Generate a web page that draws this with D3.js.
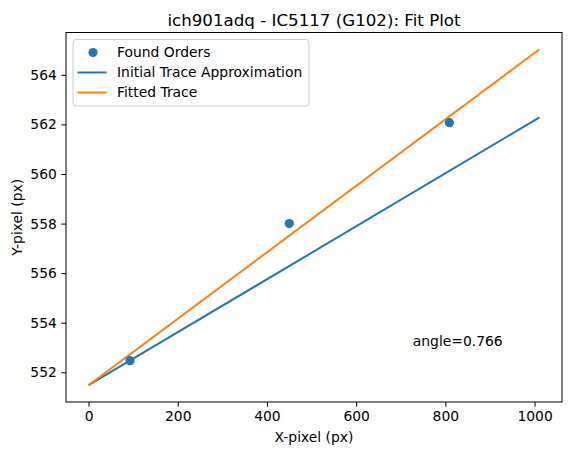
<!DOCTYPE html>
<html>
<head>
<meta charset="utf-8">
<script src="https://cdn.jsdelivr.net/npm/d3@7"></script>
<style>
  body { margin: 0; background: #fff; }
  svg { font-family: "DejaVu Sans", sans-serif; }
</style>
</head>
<body>
<svg id="drawing_region"></svg>
<script>
// data
const found_x = [93, 450, 809]
const found_y = [552.47, 558.0, 562.07]
const trace_x = [0, 1011]
const initial_y = [551.48, 562.28]
const fitted_y = [551.48, 565.03]
const x_ticks = [0, 200, 400, 600, 800, 1000]
const y_ticks = [552, 554, 556, 558, 560, 562, 564]
const angle_label = 'angle=0.766'

const config = {
    width: 571,
    height: 455,
    margin: {top: 32.5, right: 9, bottom: 53, left: 66}
}
const fs = 13.89

const svg = d3.select('#drawing_region')
    .attr('width', config.width)
    .attr('height', config.height)

const inner_width = config.width - config.margin.left - config.margin.right
const inner_height = config.height - config.margin.top - config.margin.bottom

const chart = svg.append('g')
    .attr('transform', `translate(${config.margin.left},${config.margin.top})`)

// matplotlib style 5% margins
const xlo = d3.min(trace_x), xhi = d3.max(trace_x)
const xpad = (xhi - xlo) * 0.05
const xscale = d3.scaleLinear().domain([xlo - xpad, xhi + xpad]).range([0, inner_width])

const all_y = initial_y.concat(fitted_y, found_y)
const ylo = d3.min(all_y), yhi = d3.max(all_y)
const ypad = (yhi - ylo) * 0.05
const yscale = d3.scaleLinear().domain([ylo - ypad, yhi + ypad]).range([inner_height, 0])

const xaxis = d3.axisBottom(xscale).tickValues(x_ticks).tickFormat(d3.format('d'))
    .tickSize(4.7).tickPadding(4.5).tickSizeOuter(0)
const yaxis = d3.axisLeft(yscale).tickValues(y_ticks).tickFormat(d3.format('d'))
    .tickSize(4.7).tickPadding(4.5).tickSizeOuter(0)

const xg = chart.append('g').attr('transform', `translate(0,${inner_height})`).call(xaxis)
const yg = chart.append('g').call(yaxis)
xg.select('.domain').remove()
yg.select('.domain').remove()
chart.selectAll('.tick text').attr('font-size', fs).attr('fill', '#000')
    .attr('font-family', '"DejaVu Sans", sans-serif')
chart.selectAll('.tick line').attr('stroke', '#000').attr('stroke-width', 1)

const line = d3.line().x((d, i) => xscale(trace_x[i])).y(d => yscale(d))

chart.append('path').datum(initial_y)
    .attr('d', line)
    .attr('fill', 'none')
    .attr('stroke', '#1f77b4')
    .attr('stroke-width', 2)

chart.append('path').datum(fitted_y)
    .attr('d', line)
    .attr('fill', 'none')
    .attr('stroke', '#ff7f0e')
    .attr('stroke-width', 2)

chart.selectAll('circle.found').data(found_x).enter()
    .append('circle')
    .attr('class', 'found')
    .attr('cx', d => xscale(d))
    .attr('cy', (d, i) => yscale(found_y[i]))
    .attr('r', 4.6)
    .attr('fill', '#1f77b4')

chart.append('text')
    .attr('x', xscale(727))
    .attr('y', yscale(553.25))
    .attr('dy', '0.35em')
    .attr('font-size', fs)
    .text(angle_label)

// frame
chart.append('rect')
    .attr('width', inner_width)
    .attr('height', inner_height)
    .attr('fill', 'none')
    .attr('stroke', '#000')
    .attr('stroke-width', 1)

// legend
const legend = chart.append('g').attr('transform', 'translate(7,7)')
legend.append('rect')
    .attr('width', 236)
    .attr('height', 66.5)
    .attr('rx', 3)
    .attr('fill', '#fff')
    .attr('fill-opacity', 0.8)
    .attr('stroke', '#ccc')
    .attr('stroke-width', 1)

const legend_items = [
    {label: 'Found Orders', kind: 'dot', color: '#1f77b4'},
    {label: 'Initial Trace Approximation', kind: 'line', color: '#1f77b4'},
    {label: 'Fitted Trace', kind: 'line', color: '#ff7f0e'}
]
legend_items.forEach((d, i) => {
    const y = 13 + i * 20
    if (d.kind === 'dot') {
        legend.append('circle').attr('cx', 20).attr('cy', y).attr('r', 4.6).attr('fill', d.color)
    } else {
        legend.append('line').attr('x1', 4.5).attr('x2', 33.5).attr('y1', y).attr('y2', y)
            .attr('stroke', d.color).attr('stroke-width', 2)
    }
    legend.append('text')
        .attr('x', 44)
        .attr('y', y)
        .attr('dy', '0.35em')
        .attr('font-size', fs)
        .text(d.label)
})

// title and axis labels
svg.append('text')
    .attr('x', config.margin.left + inner_width / 2)
    .attr('y', 20)
    .attr('dy', '0.35em')
    .attr('text-anchor', 'middle')
    .attr('font-size', 16.67)
    .text('ich901adq - IC5117 (G102): Fit Plot')

svg.append('text')
    .attr('x', config.margin.left + inner_width / 2)
    .attr('y', 437)
    .attr('dy', '0.35em')
    .attr('text-anchor', 'middle')
    .attr('font-size', fs)
    .text('X-pixel (px)')

svg.append('text')
    .attr('transform', `translate(17,${config.margin.top + inner_height / 2}) rotate(-90)`)
    .attr('dy', '0.35em')
    .attr('text-anchor', 'middle')
    .attr('font-size', fs)
    .text('Y-pixel (px)')
</script>
</body>
</html>
